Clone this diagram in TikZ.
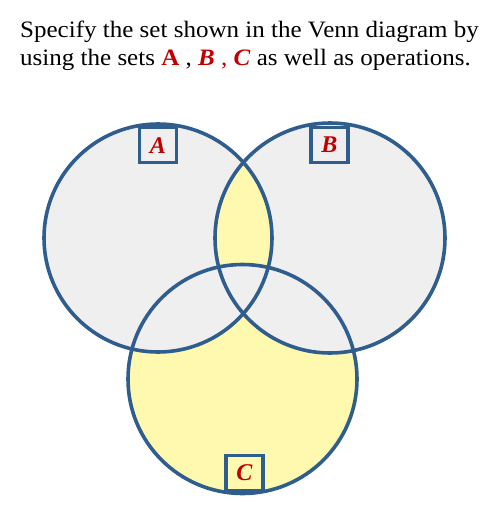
\documentclass[tikz,border=0pt]{standalone}
\usepackage{fontspec}
\setmainfont{Liberation Serif}
\newfontfamily\widefont[FakeStretch=1.065]{Liberation Serif}
\definecolor{ringblue}{RGB}{47,94,142}
\definecolor{lightgray}{RGB}{239,239,239}
\definecolor{paleyellow}{RGB}{255,249,175}
\definecolor{setred}{RGB}{192,0,0}
\tikzset{
  ring/.style={draw=ringblue,line width=3.6pt},
  setname/.style={draw=ringblue,line width=3.2pt,minimum width=37pt,minimum height=35pt,inner sep=0pt,
    font=\fontsize{24}{24}\selectfont\bfseries\itshape,text=setred},
  question/.style={anchor=base west,inner sep=0pt,font=\widefont\fontsize{23.5}{28}\selectfont}
}
\begin{document}
\begin{tikzpicture}[x=1pt,y=-1pt]
    \useasboundingbox (0,0) rectangle (501,517);
    % Centros dos conjuntos
    \coordinate (a) at (158,238);
    \coordinate (b) at (330,238);
    \coordinate (c) at (242.5,379);
    % Enunciado
    \node[question] (line1) at (20,37) {Specify the set shown in the Venn diagram by};
    \node[question] (line2) at (20,65) {using the sets \textcolor{setred}{\textbf{A}} , \textcolor{setred}{\textbf{\textit{B}} , \textbf{\textit{C}}} as well as operations.};
    % Fundo cinza de A e B
    \fill[lightgray] (a) circle (114);
    \fill[lightgray] (b) circle (115);
    % A e B juntos
    \begin{scope}
        \clip (a) circle (114);
        \fill[paleyellow] (b) circle (115);
    \end{scope}
    % C por inteiro
    \fill[paleyellow] (c) circle (114.5);
    % C com A ou com B volta ao cinza
    \begin{scope}
        \clip (c) circle (114.5);
        \fill[lightgray] (a) circle (114);
        \fill[lightgray] (b) circle (115);
    \end{scope}
    % Nomes dos conjuntos
    \node[setname,fill=lightgray,anchor=north] (nameA) at (158,126) {A};
    \node[setname,fill=lightgray,anchor=north] (nameB) at (329.5,126) {B};
    \node[setname,fill=paleyellow,anchor=south] (nameC) at (244.5,492) {C};
    % Contornos
    \draw[ring] (a) circle (114);
    \draw[ring] (b) circle (115);
    \draw[ring] (c) circle (114.5);
\end{tikzpicture}
\end{document}
